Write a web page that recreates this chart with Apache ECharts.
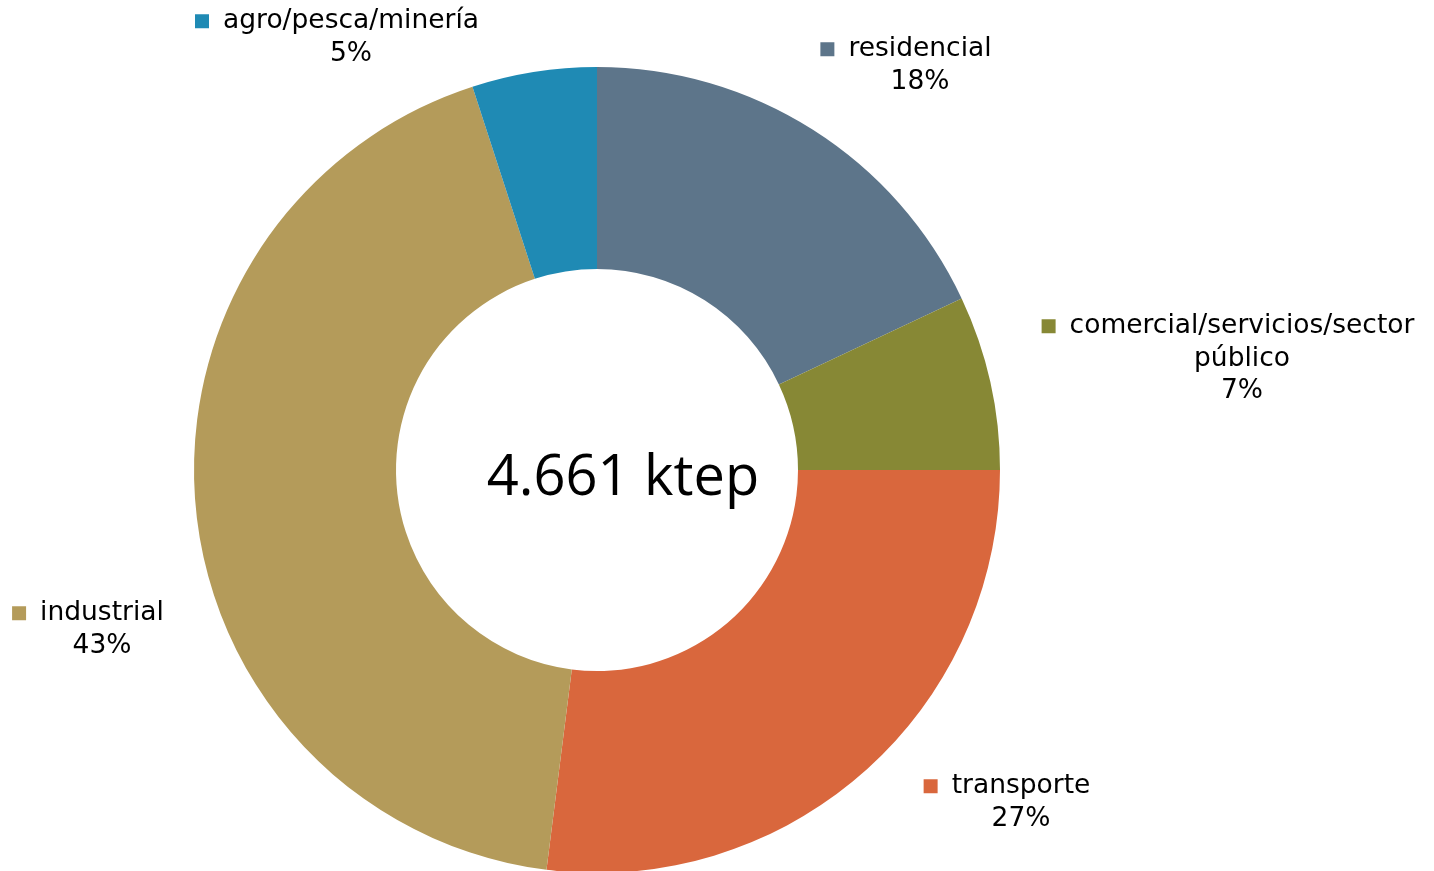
<!DOCTYPE html>
<html>
<head>
<meta charset="utf-8">
<script src="https://cdn.jsdelivr.net/npm/echarts@6/dist/echarts.min.js"></script>
<style>
html,body{margin:0;padding:0;background:#fff;}
#chart{width:1434px;height:871px;}
</style>
</head>
<body>
<div id="chart"></div>
<script>
const categories = ['residencial', 'comercial/servicios/sector público', 'transporte', 'industrial', 'agro/pesca/minería'];
const values = [18, 7, 27, 43, 5];
const colors = ['#5D758A', '#878835', '#D9673D', '#B49B5A', '#1F8AB4'];
const totalLabel = '4.661 ktep';

// label anchor positions (center x of text, top y of block)
const labelPos = [
  [920, 33],
  [1242, 310],
  [1021, 770],
  [102, 597],
  [351, 5]
];

function splitName(name) {
  if (name.length > 24) {
    const i = name.lastIndexOf(' ');
    return [name.slice(0, i), name.slice(i + 1)];
  }
  return [name];
}

const data = categories.map((c, i) => ({
  name: c,
  value: values[i],
  itemStyle: { color: colors[i] },
  label: {
    rich: {
      m: { width: 14, height: 14, backgroundColor: colors[i], align: 'center' },
      g: { width: 14, align: 'center' },
      s: { width: 28, align: 'center' },
      t: { fontFamily: 'DejaVu Sans', fontSize: 26.5, color: '#000', lineHeight: 32.5, align: 'center' }
    }
  }
}));

const chart = echarts.init(document.getElementById('chart'), null, { renderer: 'canvas' });
chart.setOption({
  animation: false,
  backgroundColor: '#fff',
  series: [{
    type: 'pie',
    center: [597, 470],
    radius: [201, 403],
    startAngle: 90,
    clockwise: true,
    data: data,
    emphasis: { disabled: true },
    itemStyle: { borderWidth: 0 },
    labelLine: { show: false },
    label: {
      show: true,
      position: 'outside',
      overflow: 'none',
      lineHeight: 32.5,
      fontFamily: 'DejaVu Sans',
      fontSize: 26.5,
      color: '#000',
      formatter: function (p) {
        const lines = splitName(p.name);
        let s = '{m|}{g|}{t|' + lines[0] + '}{s|}';
        for (let k = 1; k < lines.length; k++) s += '\n{t|' + lines[k] + '}';
        s += '\n{t|' + p.value + '%}';
        return s;
      }
    },
    labelLayout: function (params) {
      const pos = labelPos[params.dataIndex];
      return { x: pos[0], y: pos[1], align: 'center', verticalAlign: 'top', hideOverlap: false, moveOverlap: false };
    }
  }],
  graphic: [{
    type: 'text',
    x: 623,
    y: 479,
    style: {
      text: totalLabel,
      font: '56px "Open Sans"',
      fill: '#000',
      textAlign: 'center',
      textVerticalAlign: 'middle'
    }
  }]
});
</script>
</body>
</html>
